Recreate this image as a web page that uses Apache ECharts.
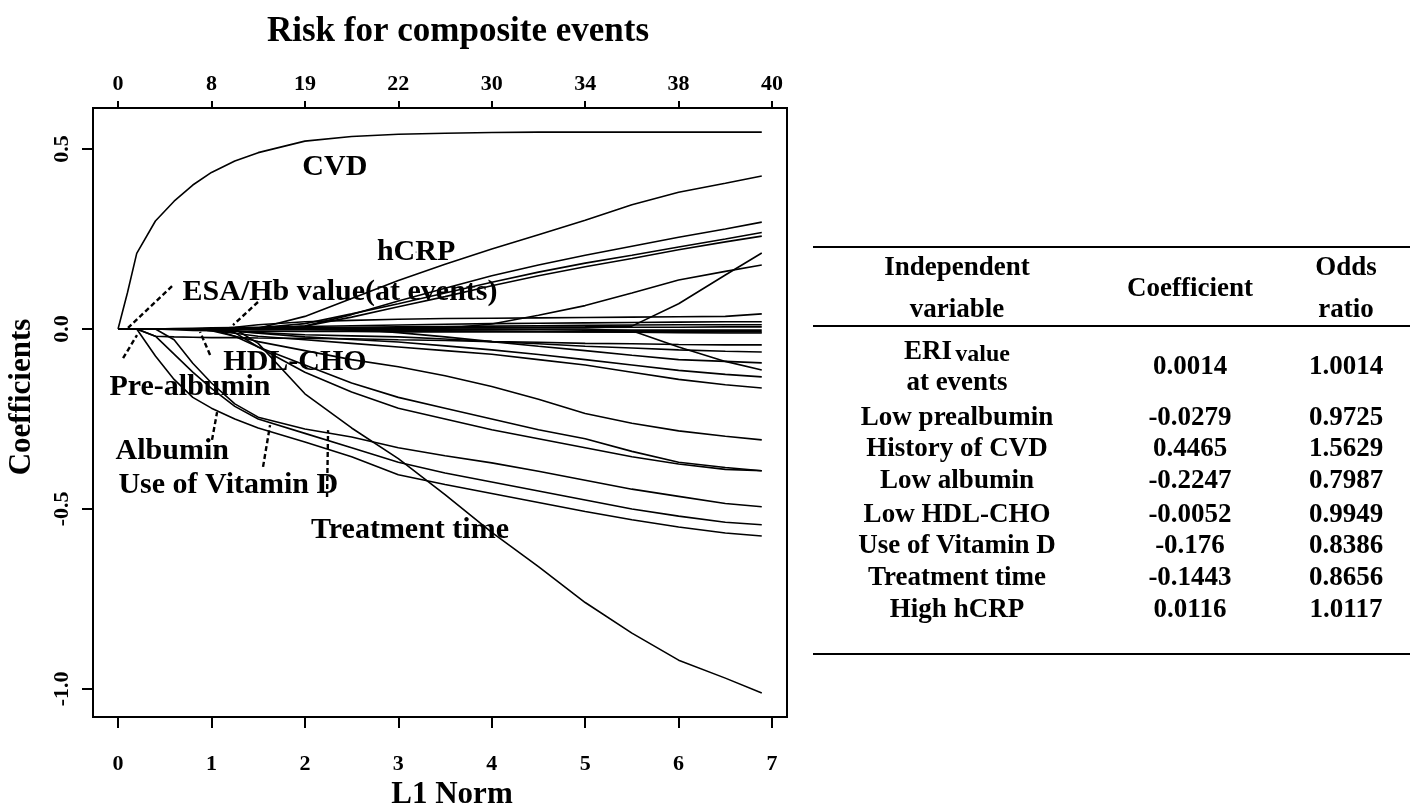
<!DOCTYPE html>
<html><head><meta charset="utf-8">
<script src="https://cdn.jsdelivr.net/npm/echarts@6/dist/echarts.min.js"></script>
<style>html,body{margin:0;padding:0;background:#fff;}#c{width:1413px;height:809px;}</style>
</head><body><div id="c"></div>
<script>
const FONT = 'Liberation Serif';
// L1 norm sample points (bottom axis)
const l1Norm = [0, 0.1, 0.2, 0.4, 0.6, 0.8, 1, 1.25, 1.5, 2, 2.5, 3, 3.5, 4, 4.5, 5, 5.5, 6, 6.5, 6.89];
const bottomTicks = [0, 1, 2, 3, 4, 5, 6, 7];
const topTickLabels = ['0', '8', '19', '22', '30', '34', '38', '40'];
const yTicks = [-1, -0.5, 0, 0.5];

// coefficient paths
const cvd    = [0,0.10,0.21,0.30,0.355, 0.40,0.435,0.467,0.49,0.522, 0.535,0.541,0.544,0.546,0.547, 0.547,0.547,0.547,0.547,0.547];
const hcrp   = [0,0,0,0,0, 0,0,0,0.002,0.035, 0.085,0.135,0.18,0.222,0.262, 0.302,0.345,0.38,0.405,0.425];
const posA   = [0,0,0,0,0, 0,0,0,0,0.008, 0.04,0.078,0.113,0.148,0.178, 0.205,0.23,0.255,0.278,0.297];
const posB   = [0,0,0,0,0, 0,0,0,0.003,0.015, 0.042,0.07,0.1,0.13,0.158, 0.183,0.205,0.228,0.25,0.268];
const posC   = [0,0,0,0,0, 0,0,0,0,0.008, 0.033,0.062,0.09,0.12,0.148, 0.173,0.196,0.22,0.242,0.258];
const posD   = [0,0,0,0,0, 0,0,0,0,0, 0,0.001,0.002,0.014,0.038, 0.065,0.1,0.136,0.16,0.178];
const posE   = [0,0,0,0,0, 0,0,0,0,0.001, 0.002,0.003,0.004,0.005,0.005, 0.006,0.008,0.07,0.15,0.211];
const esaHb  = [0,0,0,0,0, 0,0,0.005,0.012,0.02, 0.024,0.027,0.029,0.03,0.031, 0.032,0.033,0.034,0.035,0.042];
const band1  = [0,0,0,0,0.001, 0.002,0.003,0.004,0.005,0.007, 0.009,0.011,0.013,0.015,0.016, 0.017,0.018,0.019,0.02,0.02];
const band2  = [0,0,0,0,0, 0,0.001,0.002,0.003,0.004, 0.005,0.006,0.007,0.008,0.009, 0.01,0.011,0.012,0.012,0.012];
const band3  = [0,0,0,0,0, 0,0,0,0,0.001, 0.002,0.002,0.003,0.003,0.004, 0.004,0.005,0.005,0.006,0.006];
const band4  = [0,0,0,0,0, 0,0,0,-0.001,-0.001, -0.001,-0.002,-0.002,-0.002,-0.002, -0.003,-0.003,-0.003,-0.003,-0.003];
const band5  = [0,0,0,0,0, 0,0,0,-0.001,-0.002, -0.003,-0.004,-0.005,-0.006,-0.007, -0.008,-0.009,-0.01,-0.011,-0.011];
const band6  = [0,0,0,0,-0.002, -0.004,-0.005,-0.006,-0.006,-0.007, -0.007,-0.008,-0.008,-0.008,-0.008, -0.008,-0.008,-0.008,-0.008,-0.008];
const preAlb = [0,0,0,-0.02,-0.022, -0.023,-0.024,-0.024,-0.025,-0.026, -0.027,-0.03,-0.032,-0.035,-0.037, -0.04,-0.041,-0.043,-0.044,-0.044];
const hdlCho = [0,0,0,0,0, 0,-0.003,-0.006,-0.01,-0.016, -0.019,-0.022,-0.028,-0.035,-0.041, -0.048,-0.053,-0.058,-0.062,-0.064];
const neg3   = [0,0,0,0,0, 0,0,0,0,0, 0,-0.01,-0.022,-0.035,-0.048, -0.06,-0.073,-0.085,-0.09,-0.094];
const neg4   = [0,0,0,0,0, 0,0,0,0,0, 0,0,0,0,0, 0,-0.005,-0.05,-0.09,-0.114];
const neg5   = [0,0,0,0,0, 0,0,-0.006,-0.012,-0.022, -0.029,-0.036,-0.047,-0.058,-0.071, -0.085,-0.1,-0.115,-0.126,-0.133];
const neg6   = [0,0,0,0,0, 0,-0.005,-0.012,-0.02,-0.03, -0.04,-0.05,-0.06,-0.07,-0.085, -0.1,-0.12,-0.14,-0.155,-0.164];
const negA   = [0,0,0,0,0, 0,-0.005,-0.02,-0.035,-0.06, -0.085,-0.105,-0.13,-0.16,-0.195, -0.235,-0.262,-0.283,-0.298,-0.308];
const negB   = [0,0,0,0,0, 0,0,-0.02,-0.05,-0.1, -0.15,-0.19,-0.22,-0.25,-0.28, -0.305,-0.34,-0.37,-0.385,-0.394];
const negC   = [0,0,0,0,0, 0,0,-0.01,-0.05,-0.12, -0.175,-0.22,-0.25,-0.28,-0.305, -0.33,-0.355,-0.375,-0.39,-0.394];
const vitD   = [0,0,0,0,-0.03, -0.095,-0.15,-0.208,-0.245,-0.278, -0.3,-0.33,-0.352,-0.372,-0.395, -0.42,-0.445,-0.465,-0.485,-0.494];
const negE   = [0,0,0,-0.02,-0.07, -0.12,-0.165,-0.215,-0.25,-0.29, -0.33,-0.37,-0.4,-0.425,-0.45, -0.475,-0.5,-0.52,-0.537,-0.544];
const albumin= [0,0,0,-0.075,-0.14, -0.19,-0.22,-0.25,-0.275,-0.314, -0.355,-0.405,-0.432,-0.457,-0.482, -0.507,-0.53,-0.55,-0.567,-0.575];
const treat  = [0,0,0,0,0, 0,0,0,-0.04,-0.18, -0.275,-0.36,-0.46,-0.565,-0.66, -0.76,-0.845,-0.92,-0.97,-1.011];
const paths = [cvd,hcrp,posA,posB,posC,posD,posE,esaHb,band1,band2,band3,band4,band5,band6,
  preAlb,hdlCho,neg3,neg4,neg5,neg6,negA,negB,negC,vitD,negE,albumin,treat];

// annotation labels in data units
const annoText = ['CVD','hCRP','ESA/Hb value(at events)','HDL-CHO','Pre-albumin','Albumin','Use of Vitamin D','Treatment time'];
const annoX = [2.32, 3.19, 2.376, 1.894, 0.77, 0.58, 1.18, 3.125];
const annoY = [0.45, 0.214, 0.103, -0.092, -0.161, -0.339, -0.433, -0.558];
// dashed pointer segments [x1, y1, x2, y2]
const pointers = [
  [0.578, 0.119, 0.107, 0.003],
  [1.498, 0.075, 1.231, 0.011],
  [0.054, -0.081, 0.203, -0.017],
  [0.985, -0.072, 0.878, -0.008],
  [1.006, -0.308, 1.06, -0.231],
  [1.552, -0.383, 1.627, -0.267],
  [2.237, -0.467, 2.248, -0.281]
];

// table
const tableHeader = [['Independent','variable'], ['Coefficient'], ['Odds','ratio']];
const tableVars = ['ERI value|at events','Low prealbumin','History of CVD','Low albumin','Low HDL-CHO','Use of Vitamin D','Treatment time','High hCRP'];
const tableCoef = ['0.0014','-0.0279','0.4465','-0.2247','-0.0052','-0.176','-0.1443','0.0116'];
const tableOR   = ['1.0014','0.9725','1.5629','0.7987','0.9949','0.8386','0.8656','1.0117'];

const chart = echarts.init(document.getElementById('c'), null, {renderer: 'canvas'});

const series = paths.map(p => ({
  type: 'line', data: l1Norm.map((x, i) => [x, p[i]]), showSymbol: false, symbol: 'none',
  lineStyle: {color: '#000', width: 1.6}, silent: true, z: 2
}));
pointers.forEach(p => series.push({
  type: 'line', data: [[p[0], p[1]], [p[2], p[3]]], showSymbol: false, symbol: 'none',
  lineStyle: {color: '#000', width: 2.4, type: [5, 3]}, silent: true, z: 3
}));
series.push({
  type: 'scatter', symbol: 'circle', symbolSize: 1, itemStyle: {color: '#000', opacity: 1}, silent: true, z: 4,
  data: annoText.map((t, i) => ({value: [annoX[i], annoY[i]], name: t})),
  label: {show: true, position: 'inside', formatter: p => p.name, color: '#000', opacity: 1,
    textBorderWidth: 0, textBorderColor: 'transparent', textShadowBlur: 0,
    fontFamily: FONT, fontWeight: 'bold', fontSize: 30},
  labelLayout: {hideOverlap: false}
});

// table graphics
const g = [];
const colX = [957, 1190, 1346];
const bold = s => ({fontFamily: FONT, fontWeight: 'bold', fontSize: s});
function txt(x, y, t, size) {
  g.push({type: 'text', x: x, y: y, style: Object.assign({text: t, fill: '#000', align: 'center', verticalAlign: 'middle'}, bold(size))});
}
function rule(y, w) {
  g.push({type: 'line', shape: {x1: 813, y1: y, x2: 1410, y2: y}, style: {stroke: '#000', lineWidth: w}});
}
rule(247, 2); rule(326, 2); rule(654, 2);
txt(colX[0], 268, tableHeader[0][0], 27); txt(colX[0], 310, tableHeader[0][1], 27);
txt(colX[1], 289, tableHeader[1][0], 27);
txt(colX[2], 268, tableHeader[2][0], 27); txt(colX[2], 310, tableHeader[2][1], 27);
const rowY = [367, 418, 449, 481, 515, 546, 578, 610];
tableVars.forEach((v, i) => {
  if (v.indexOf('|') >= 0) {
    const parts = v.split('|');
    const first = parts[0].split(' ');
    g.push({type: 'text', x: colX[0], y: 352, style: {
      text: '{a|' + first[0] + '} {b|' + first[1] + '}', align: 'center', verticalAlign: 'middle',
      rich: {a: Object.assign({fill: '#000'}, bold(27)), b: Object.assign({fill: '#000', padding: [6, 0, 0, 0]}, bold(24))}
    }});
    txt(colX[0], 383, parts[1], 27);
  } else {
    txt(colX[0], rowY[i], v, 27);
  }
  txt(colX[1], rowY[i], tableCoef[i], 27);
  txt(colX[2], rowY[i], tableOR[i], 27);
});
// axis titles
g.push({type: 'text', x: 452, y: 795, style: Object.assign({text: 'L1 Norm', fill: '#000', align: 'center', verticalAlign: 'middle'}, bold(31))});
g.push({type: 'text', x: 22, y: 397, rotation: Math.PI / 2, style: Object.assign({text: 'Coefficients', fill: '#000', align: 'center', verticalAlign: 'middle'}, bold(31))});

const xCommon = {
  type: 'value', min: -0.268, max: 7.16,
  axisLine: {show: true, onZero: false, lineStyle: {color: '#000', width: 2}},
  splitLine: {show: false}
};

chart.setOption({
  animation: false,
  backgroundColor: '#fff',
  title: {text: 'Risk for composite events', left: 453, top: 9, textAlign: 'center',
    textStyle: Object.assign({color: '#000'}, bold(35))},
  grid: {left: 93, top: 108, width: 694, height: 609, show: true, borderColor: '#000', borderWidth: 2,
    containLabel: false, outerBoundsMode: 'none'},
  xAxis: [
    Object.assign({}, xCommon, {position: 'bottom',
      axisTick: {show: true, length: 11, lineStyle: {color: '#000', width: 2}, customValues: bottomTicks},
      axisLabel: {color: '#000', fontFamily: FONT, fontWeight: 'bold', fontSize: 22, margin: 36, customValues: bottomTicks,
        formatter: v => String(Math.round(v))}}),
    Object.assign({}, xCommon, {position: 'top',
      axisTick: {show: true, length: 7, lineStyle: {color: '#000', width: 2}, customValues: bottomTicks},
      axisLabel: {color: '#000', fontFamily: FONT, fontWeight: 'bold', fontSize: 22, margin: 13, customValues: bottomTicks,
        formatter: v => topTickLabels[Math.round(v)]}})
  ],
  yAxis: {
    type: 'value', min: -1.078, max: 0.614,
    axisLine: {show: true, onZero: false, lineStyle: {color: '#000', width: 2}},
    splitLine: {show: false},
    axisTick: {show: true, length: 11, lineStyle: {color: '#000', width: 2}, customValues: yTicks},
    axisLabel: {color: '#000', fontFamily: FONT, fontWeight: 'bold', fontSize: 22, margin: 20, rotate: 90,
      customValues: yTicks, formatter: v => v.toFixed(1)}
  },
  graphic: g,
  series: series
});
</script></body></html>
